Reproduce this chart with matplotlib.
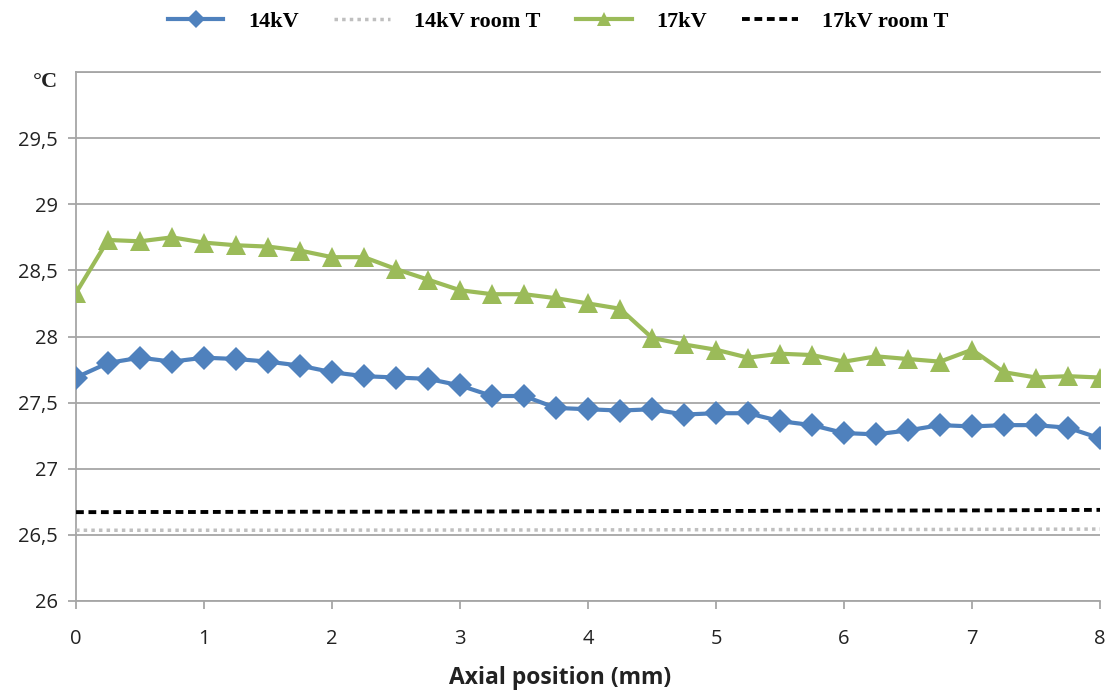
import numpy as np
import matplotlib
matplotlib.use("Agg")
from matplotlib import pyplot as plt

# axial positions, every 0.25 mm
position = [0, 0.25, 0.5, 0.75, 1, 1.25, 1.5, 1.75, 2, 2.25, 2.5, 2.75, 3, 3.25,
            3.5, 3.75, 4, 4.25, 4.5, 4.75, 5, 5.25, 5.5, 5.75, 6, 6.25, 6.5,
            6.75, 7, 7.25, 7.5, 7.75, 8]

temp_14kv = [27.69, 27.80, 27.84, 27.81, 27.84, 27.83, 27.81, 27.78, 27.73,
             27.70, 27.69, 27.68, 27.63, 27.55, 27.55, 27.46, 27.45, 27.44,
             27.45, 27.41, 27.42, 27.42, 27.36, 27.33, 27.27, 27.26, 27.29,
             27.33, 27.32, 27.33, 27.33, 27.31, 27.23]

temp_17kv = [28.33, 28.73, 28.72, 28.75, 28.71, 28.69, 28.68, 28.65, 28.60,
             28.60, 28.51, 28.43, 28.35, 28.32, 28.32, 28.29, 28.25, 28.21,
             27.99, 27.94, 27.90, 27.84, 27.87, 27.86, 27.81, 27.85, 27.83,
             27.81, 27.90, 27.73, 27.69, 27.70, 27.69]

room_14kv = [26.535, 26.535, 26.535, 26.535, 26.535, 26.535, 26.535, 26.535,
             26.536, 26.536, 26.536, 26.536, 26.537, 26.537, 26.537, 26.537,
             26.538, 26.538, 26.538, 26.539, 26.539, 26.539, 26.540, 26.540,
             26.540, 26.541, 26.541, 26.541, 26.542, 26.542, 26.543, 26.543,
             26.544]

room_17kv = [26.672, 26.672, 26.673, 26.673, 26.673, 26.674, 26.674, 26.675,
             26.675, 26.675, 26.676, 26.676, 26.677, 26.677, 26.678, 26.678,
             26.679, 26.679, 26.680, 26.680, 26.681, 26.681, 26.682, 26.683,
             26.683, 26.684, 26.684, 26.685, 26.685, 26.686, 26.687, 26.688,
             26.689]

yticks = [26, 26.5, 27, 27.5, 28, 28.5, 29, 29.5, 30]
ytick_labels = ["26", "26,5", "27", "27,5", "28", "28,5", "29", "29,5", "°C"]

blue = "#4F81BD"
green = "#9BBB59"
grid_grey = "#A6A6A6"

fig = plt.figure(figsize=(11.1, 6.96), dpi=100)
ax = fig.add_axes([0.0685, 0.1365, 0.9225, 0.7600])

l1, = ax.plot(position, temp_14kv, color=blue, lw=3, marker="D", ms=12,
              markeredgewidth=0, label="14kV", zorder=4)
l2, = ax.plot(position, room_14kv, color="#BFBFBF", lw=2.5, ls=(0, (1, 1.2)),
              label="14kV room T", zorder=3)
l3, = ax.plot(position, temp_17kv, color=green, lw=3, marker="^", ms=14,
              markeredgewidth=0, label="17kV", zorder=4)
l4, = ax.plot(position, room_17kv, color="black", lw=2.8, ls=(0, (2, 1.2)),
              label="17kV room T", zorder=3)

ax.set_xlim(0, 8)
ax.set_ylim(26, 30)
ax.set_xticks(range(9))
ax.set_yticks(yticks)
ax.set_yticklabels(ytick_labels)
ax.yaxis.grid(True, color=grid_grey, lw=1.3)
# gridline at the upper limit gets clipped, draw it by hand
ax.axhline(30, color=grid_grey, lw=1.3, clip_on=False, zorder=0.5)
ax.set_axisbelow(True)

for side in ["top", "right"]:
    ax.spines[side].set_visible(False)
for side in ["left", "bottom"]:
    ax.spines[side].set_color(grid_grey)
    ax.spines[side].set_linewidth(1.3)

ax.tick_params(axis="both", color=grid_grey, width=1.3, length=6,
               labelsize=14.5, labelcolor="#222222")
ax.tick_params(axis="x", pad=14)
ax.tick_params(axis="y", pad=7)
for lab in ax.get_xticklabels() + ax.get_yticklabels():
    lab.set_family("Open Sans")

# the top tick carries the unit instead of a number
unit = ax.get_yticklabels()[-1]
unit.set_family("Liberation Serif")
unit.set_fontweight("bold")
unit.set_fontsize(16)
unit.set_verticalalignment("top")
ax.yaxis.get_major_ticks()[-1].tick1line.set_visible(False)

ax.set_xlabel("Axial position (mm)", fontsize=16.5, fontweight="bold",
              family="Open Sans", color="#222222")
ax.xaxis.set_label_coords(0.473, -0.122)

fig.legend(handles=[l1, l2, l3, l4], loc="upper center",
           bbox_to_anchor=(0.503, 1.012), ncol=4, frameon=False,
           prop={"family": "Liberation Serif", "weight": "bold", "size": 16},
           handlelength=2.5, columnspacing=1.6, handletextpad=1.1,
           markerscale=0.75)

fig.savefig("out.png", dpi=100)
